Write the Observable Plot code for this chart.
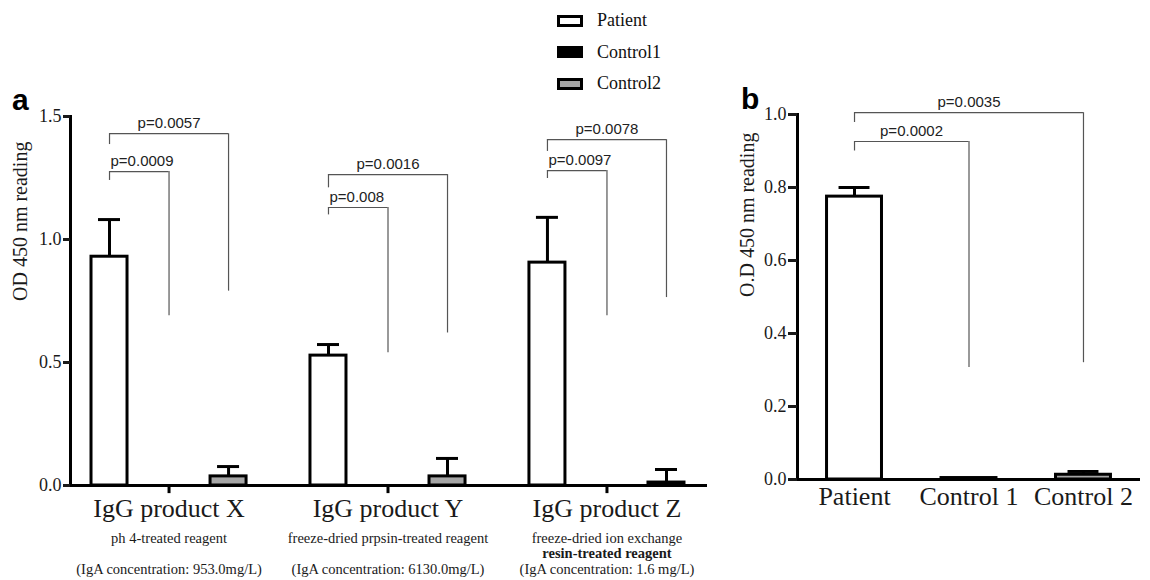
<!DOCTYPE html>
<html>
<head>
<meta charset="utf-8">
<script src="https://cdn.jsdelivr.net/npm/d3@7"></script>
<script src="https://cdn.jsdelivr.net/npm/@observablehq/plot@0.6"></script>
<style>
html, body { margin: 0; padding: 0; background: #fff; }
#root { position: relative; width: 1150px; height: 580px; overflow: hidden; font-family: "Liberation Serif", serif; }
#panelA { position: absolute; left: 0; top: 0; }
#panelB { position: absolute; left: 720px; top: 0; }
.plabel { position: absolute; font-family: "Liberation Sans", Arial, sans-serif; font-weight: bold; font-size: 30px; line-height: 1; color: #000; }
#legend { position: absolute; left: 557px; top: 5px; }
.row { display: flex; align-items: center; height: 31.5px; }
.sw { width: 26px; height: 12px; border: 3px solid #000; box-sizing: border-box; margin-right: 14px; }
.lt { font-size: 18px; color: #111; font-family: "Liberation Serif", serif; }
</style>
</head>
<body>
<div id="root">
  <div id="panelA"></div>
  <div id="panelB"></div>
  <div id="legend"></div>
  <div class="plabel" style="left:12px;top:85px;">a</div>
  <div class="plabel" style="left:741px;top:84px;">b</div>
</div>
<script>
// ---------- Panel a data ----------
const groups = ["IgG product X", "IgG product Y", "IgG product Z"];
const series = ["Patient", "Control1", "Control2"];
const seriesColors = ["#ffffff", "#000000", "#a6a6a6"];

const patientA = [0.93, 0.528, 0.906];
const patientErrA = [0.151, 0.045, 0.184];
const control1A = [0, 0, 0];
const control1ErrA = [0, 0, 0];
const control2A = [0.037, 0.037, 0.012];
const control2ErrA = [0.040, 0.073, 0.053];

const methodLines = ["ph 4-treated reagent", "freeze-dried prpsin-treated reagent", "freeze-dried ion exchange"];
const boldLines = ["", "", "resin-treated reagent"];
const igaLines = ["(IgA concentration: 953.0mg/L)", "(IgA concentration: 6130.0mg/L)", "(IgA concentration: 1.6 mg/L)"];

const yTicksA = [0, 0.5, 1.0, 1.5];

const bracketGroupA = ["IgG product X", "IgG product X", "IgG product Y", "IgG product Y", "IgG product Z", "IgG product Z"];
const bracketToA = ["Control1", "Control2", "Control1", "Control2", "Control1", "Control2"];
const bracketTopA = [1.276, 1.43, 1.13, 1.264, 1.28, 1.406];
const bracketLeftEndA = [1.24, 1.386, 1.10, 1.21, 1.248, 1.358];
const bracketRightEndA = [0.69, 0.79, 0.54, 0.62, 0.69, 0.764];
const bracketLabelA = ["p=0.0009", "p=0.0057", "p=0.008", "p=0.0016", "p=0.0097", "p=0.0078"];

// ---------- Panel b data ----------
const seriesB = ["Patient", "Control 1", "Control 2"];
const valuesB = [0.775, 0.004, 0.013];
const errB = [0.025, 0, 0.009];
const yTicksB = [0, 0.2, 0.4, 0.6, 0.8, 1.0];

const bracketToB = ["Control 1", "Control 2"];
const bracketTopB = [0.926, 1.005];
const bracketLeftEndB = [0.90, 0.978];
const bracketRightEndB = [0.307, 0.32];
const bracketLabelB = ["p=0.0002", "p=0.0035"];

// ---------- build tables ----------
const dataA = groups.flatMap((g, i) => [
  {group: g, series: series[0], value: patientA[i], err: patientErrA[i]},
  {group: g, series: series[1], value: control1A[i], err: control1ErrA[i]},
  {group: g, series: series[2], value: control2A[i], err: control2ErrA[i]}
]);
const labelRows = groups.map((g, i) => ({group: g, method: methodLines[i], bold: boldLines[i], iga: igaLines[i]}));
const bracketsA = bracketGroupA.map((g, i) => ({
  group: g, from: series[0], to: bracketToA[i], top: bracketTopA[i],
  leftEnd: bracketLeftEndA[i], rightEnd: bracketRightEndA[i], label: bracketLabelA[i]
}));
const dataB = seriesB.map((s, i) => ({series: s, value: valuesB[i], err: errB[i]}));
const bracketsB = bracketToB.map((t, i) => ({
  from: seriesB[0], to: t, top: bracketTopB[i], leftEnd: bracketLeftEndB[i],
  rightEnd: bracketRightEndB[i], label: bracketLabelB[i]
}));

const baseStyle = {fontFamily: "Liberation Serif, serif", fontSize: "18px", color: "#1a1a1a", background: "transparent", overflow: "visible"};
const bracketStroke = "#555";
const sans = "Liberation Sans, Arial, sans-serif";
const groupTickLength = 0.033; // length of the group tick below the axis, in y units

// ---------- Panel a ----------
const plotA = Plot.plot({
  width: 720, height: 580,
  marginLeft: 70, marginRight: 15, marginTop: 116, marginBottom: 95,
  style: baseStyle,
  fx: {domain: groups, paddingInner: 0.1, paddingOuter: 0, round: false, label: null},
  x: {domain: series, paddingInner: 0.395, paddingOuter: 0.353, round: false, axis: null},
  y: {domain: [0, 1.5]},
  color: {domain: series, range: seriesColors},
  marks: [
    Plot.barY(dataA, {fx: "group", x: "series", y1: 0, y2: "value", fill: "series", stroke: "#000", strokeWidth: 3}),
    Plot.ruleX(dataA.filter(d => d.err > 0), {fx: "group", x: "series", y1: "value", y2: d => d.value + d.err, stroke: "#000", strokeWidth: 3}),
    Plot.tickY(dataA.filter(d => d.err > 0), {fx: "group", x: "series", y: d => d.value + d.err, stroke: "#000", strokeWidth: 3, insetLeft: 7, insetRight: 7}),
    Plot.frame({anchor: "bottom", facet: "super", stroke: "#000", strokeWidth: 3}),
    Plot.frame({anchor: "left", facet: "super", stroke: "#000", strokeWidth: 3}),
    Plot.axisY({ticks: yTicksA, tickFormat: ".1f", tickSize: 7, tickPadding: 2, strokeWidth: 3, fontSize: 18, label: null}),
    Plot.text(["OD 450 nm reading"], {facet: "super", frameAnchor: "left", rotate: -90, dx: -50, fontSize: 20}),
    Plot.axisFx({anchor: "bottom", tickSize: 0, tickPadding: 13.5, fontSize: 26, label: null}),
    Plot.text(labelRows, {fx: "group", text: "method", frameAnchor: "bottom", lineAnchor: "bottom", dy: 57, fontSize: 14.5}),
    Plot.text(labelRows.filter(d => d.bold), {fx: "group", text: "bold", frameAnchor: "bottom", lineAnchor: "bottom", dy: 72, fontSize: 14.5, fontWeight: "bold"}),
    Plot.text(labelRows, {fx: "group", text: "iga", frameAnchor: "bottom", lineAnchor: "bottom", dy: 88, fontSize: 14.5}),
    // significance brackets
    Plot.ruleY(bracketsA, {fx: "group", x1: "from", x2: "to", y: "top", insetLeft: 18, insetRight: 18, stroke: bracketStroke, strokeWidth: 1.2}),
    Plot.ruleX(bracketsA, {fx: "group", x: "from", y1: "leftEnd", y2: "top", stroke: bracketStroke, strokeWidth: 1.2}),
    Plot.ruleX(bracketsA, {fx: "group", x: "to", y1: "rightEnd", y2: "top", stroke: bracketStroke, strokeWidth: 1.2}),
    Plot.text(bracketsA.filter(d => d.to === series[1]), {fx: "group", x: "from", y: "top", text: "label", textAnchor: "start", lineAnchor: "bottom", dx: 1, dy: -6, fontFamily: sans, fontSize: 15, fill: "#222"}),
    Plot.text(bracketsA.filter(d => d.to === series[2]), {fx: "group", x: () => series[1], y: "top", text: "label", lineAnchor: "bottom", dy: -6, fontFamily: sans, fontSize: 15, fill: "#222"}),
    // group tick marks below the axis (drawn last, on top)
    Plot.ruleX(labelRows, {fx: "group", x: () => series[1], y1: () => 0, y2: () => -groupTickLength, stroke: "#000", strokeWidth: 3})
  ]
});
document.getElementById("panelA").appendChild(plotA);

// ---------- Panel b ----------
const plotB = Plot.plot({
  width: 430, height: 580,
  marginLeft: 77, marginRight: 10, marginTop: 114, marginBottom: 101,
  style: baseStyle,
  x: {domain: seriesB, paddingInner: 0.52, paddingOuter: 0.258, round: false},
  y: {domain: [0, 1]},
  color: {domain: seriesB, range: seriesColors},
  marks: [
    Plot.barY(dataB, {x: "series", y1: 0, y2: "value", fill: "series", stroke: "#000", strokeWidth: 3}),
    Plot.ruleX(dataB.filter(d => d.err > 0), {x: "series", y1: "value", y2: d => d.value + d.err, stroke: "#000", strokeWidth: 3}),
    Plot.tickY(dataB.filter(d => d.err > 0), {x: "series", y: d => d.value + d.err, stroke: "#000", strokeWidth: 3, insetLeft: 12, insetRight: 12}),
    Plot.ruleY([0], {stroke: "#000", strokeWidth: 3}),
    Plot.frame({anchor: "left", stroke: "#000", strokeWidth: 3}),
    Plot.axisY({ticks: yTicksB, tickFormat: ".1f", tickSize: 9, tickPadding: 2, strokeWidth: 3, fontSize: 18, label: null}),
    Plot.axisX({tickSize: 0, tickPadding: 7, fontSize: 26, label: null}),
    Plot.text(["O.D 450 nm reading"], {frameAnchor: "left", rotate: -90, dx: -50, fontSize: 20}),
    Plot.ruleY(bracketsB, {x1: "from", x2: "to", y: "top", insetLeft: 27.5, insetRight: 27.5, stroke: bracketStroke, strokeWidth: 1.2}),
    Plot.ruleX(bracketsB, {x: "from", y1: "leftEnd", y2: "top", stroke: bracketStroke, strokeWidth: 1.2}),
    Plot.ruleX(bracketsB, {x: "to", y1: "rightEnd", y2: "top", stroke: bracketStroke, strokeWidth: 1.2}),
    Plot.text(bracketsB.filter(d => d.to === seriesB[1]), {x: "from", y: "top", text: "label", lineAnchor: "bottom", dx: 57, dy: -6, fontFamily: sans, fontSize: 15, fill: "#222"}),
    Plot.text(bracketsB.filter(d => d.to === seriesB[2]), {x: () => seriesB[1], y: "top", text: "label", lineAnchor: "bottom", dy: -6, fontFamily: sans, fontSize: 15, fill: "#222"})
  ]
});
document.getElementById("panelB").appendChild(plotB);

// ---------- Legend ----------
const legend = document.getElementById("legend");
series.forEach((s, i) => {
  const row = document.createElement("div");
  row.className = "row";
  const sw = document.createElement("div");
  sw.className = "sw";
  sw.style.background = seriesColors[i];
  const lt = document.createElement("span");
  lt.className = "lt";
  lt.textContent = s;
  row.appendChild(sw);
  row.appendChild(lt);
  legend.appendChild(row);
});
</script>
</body>
</html>
